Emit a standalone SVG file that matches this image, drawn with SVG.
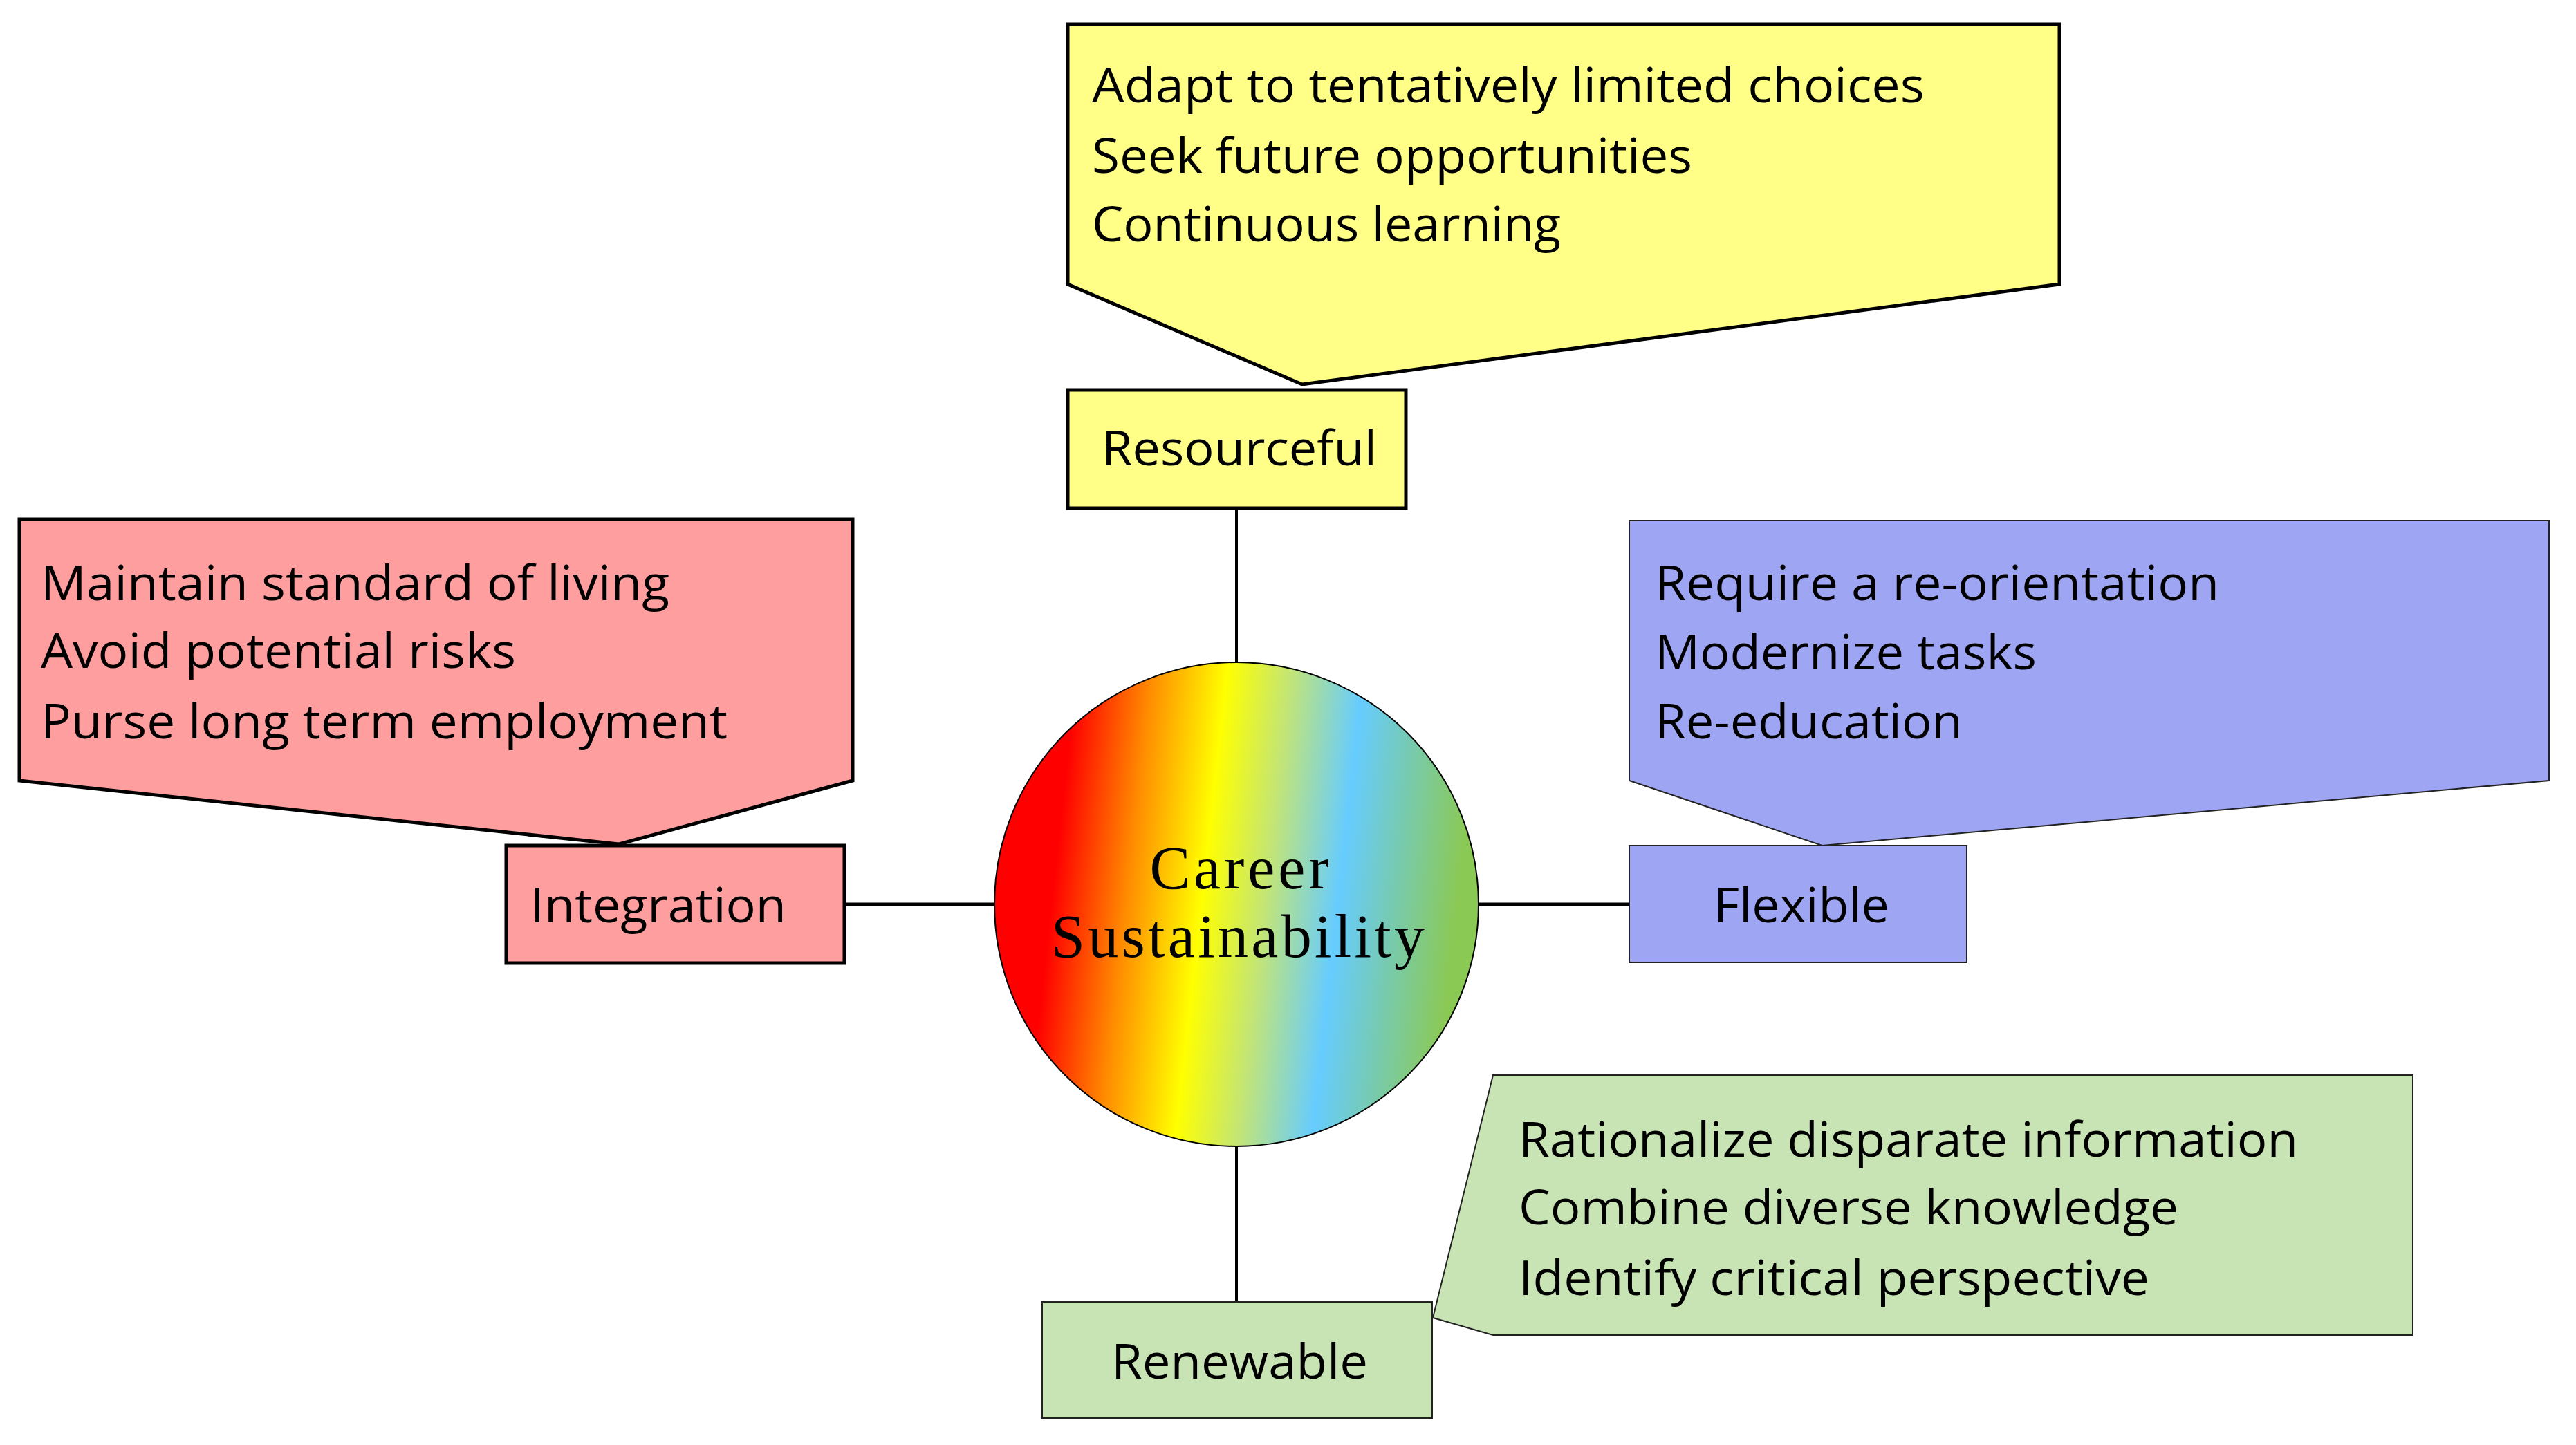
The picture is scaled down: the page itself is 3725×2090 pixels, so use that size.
<svg xmlns="http://www.w3.org/2000/svg" width="3725" height="2090" viewBox="0 0 3725 2090">
<style>
.t{font-family:"Open Sans","Noto Sans",sans-serif;font-size:70px;fill:#000}
.c{font-family:"Liberation Serif","DejaVu Serif",serif;font-size:88px;fill:#000}
.thick{stroke:#000;stroke-width:5;stroke-linejoin:miter}
.thin{stroke:#222;stroke-width:2}
.conn{stroke:#000;fill:none}
</style>
<defs>
<linearGradient id="rb" x1="0.05" y1="0.45" x2="0.95" y2="0.55">
<stop offset="0.08" stop-color="#ff0000"/>
<stop offset="0.25" stop-color="#ff8c00"/>
<stop offset="0.42" stop-color="#ffff00"/>
<stop offset="0.57" stop-color="#c0e47a"/>
<stop offset="0.73" stop-color="#66ccff"/>
<stop offset="1" stop-color="#8bc955"/>
</linearGradient>
</defs>
<g id="connectors">
<line class="conn" x1="1788" y1="735" x2="1788" y2="958" stroke-width="4"/>
<line class="conn" x1="1221" y1="1308" x2="1438" y2="1308" stroke-width="5"/>
<line class="conn" x1="2137" y1="1308" x2="2356" y2="1308" stroke-width="5"/>
<line class="conn" x1="1788" y1="1657" x2="1788" y2="1883" stroke-width="4"/>
</g>
<g id="center">
<circle cx="1788" cy="1308" r="350" fill="url(#rb)" stroke="#000" stroke-width="2"/>
<text class="c" x="1792" y="1285" text-anchor="middle" textLength="259">Career</text>
<text class="c" x="1790" y="1384" text-anchor="middle" textLength="540">Sustainability</text>
</g>
<g id="resourceful">
<path class="thick" d="M1544 35 H2978 V411 L1883 556 L1544 411 Z" fill="#ffff88"/>
<text class="t" x="1579" y="148" textLength="1204" lengthAdjust="spacingAndGlyphs">Adapt to tentatively limited choices</text>
<text class="t" x="1579" y="250" textLength="868" lengthAdjust="spacingAndGlyphs">Seek future opportunities</text>
<text class="t" x="1579" y="349" textLength="678" lengthAdjust="spacingAndGlyphs">Continuous learning</text>
<rect class="thick" x="1544" y="564" width="489" height="171" fill="#ffff88"/>
<text class="t" x="1593" y="673" textLength="398" lengthAdjust="spacingAndGlyphs">Resourceful</text>
</g>
<g id="integration">
<path class="thick" d="M28 751 H1233 V1129 L895 1221 L28 1129 Z" fill="#ff9e9e"/>
<text class="t" x="59" y="868" textLength="909" lengthAdjust="spacingAndGlyphs">Maintain standard of living</text>
<text class="t" x="59" y="966" textLength="687" lengthAdjust="spacingAndGlyphs">Avoid potential risks</text>
<text class="t" x="59" y="1068" textLength="993" lengthAdjust="spacingAndGlyphs">Purse long term employment</text>
<rect class="thick" x="732" y="1223" width="489" height="170" fill="#ff9e9e"/>
<text class="t" x="767" y="1334" textLength="370" lengthAdjust="spacingAndGlyphs">Integration</text>
</g>
<g id="flexible">
<path class="thin" d="M2356 753 H3686 V1129 L2635 1223 L2356 1129 Z" fill="#9ea5f2"/>
<text class="t" x="2393" y="868" textLength="816" lengthAdjust="spacingAndGlyphs">Require a re-orientation</text>
<text class="t" x="2393" y="968" textLength="552" lengthAdjust="spacingAndGlyphs">Modernize tasks</text>
<text class="t" x="2393" y="1068" textLength="445" lengthAdjust="spacingAndGlyphs">Re-education</text>
<rect class="thin" x="2356" y="1223" width="488" height="169" fill="#9ea5f2"/>
<text class="t" x="2478" y="1334" textLength="254" lengthAdjust="spacingAndGlyphs">Flexible</text>
</g>
<g id="renewable">
<path class="thin" d="M2159 1555 H3489 V1931 H2159 L2072 1906 Z" fill="#c8e4b4"/>
<text class="t" x="2196" y="1673" textLength="1127" lengthAdjust="spacingAndGlyphs">Rationalize disparate information</text>
<text class="t" x="2196" y="1771" textLength="954" lengthAdjust="spacingAndGlyphs">Combine diverse knowledge</text>
<text class="t" x="2196" y="1873" textLength="912" lengthAdjust="spacingAndGlyphs">Identify critical perspective</text>
<rect class="thin" x="1507" y="1883" width="564" height="168" fill="#c8e4b4"/>
<text class="t" x="1607" y="1994" textLength="371" lengthAdjust="spacingAndGlyphs">Renewable</text>
</g>
</svg>
